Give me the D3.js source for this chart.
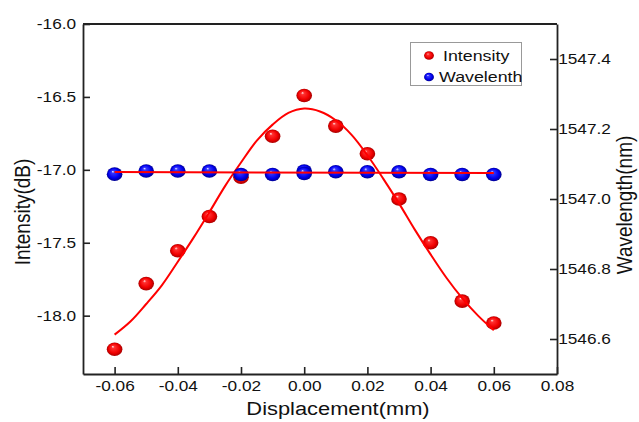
<!DOCTYPE html>
<html>
  <head>
    <meta charset="utf-8">
    <script src="https://d3js.org/d3.v7.min.js"></script>
    <style>
      body { margin: 0; background: #fff; }
      text { font-family: "Liberation Sans", Arial, sans-serif; fill: #111; }
    </style>
  </head>
  <body>
  <script>

    // measured points
    var xVals = [-0.06, -0.05, -0.04, -0.03, -0.02, -0.01, 0.00, 0.01, 0.02, 0.03, 0.04, 0.05, 0.06];
    var intensity = [-18.23, -17.78, -17.555, -17.32, -17.05, -16.77, -16.49, -16.70, -16.89, -17.20, -17.50, -17.90, -18.05];
    var wlX = [-0.06, -0.05, -0.04, -0.03, -0.02, -0.01, 0.00, 0.00, 0.01, 0.02, 0.03, 0.04, 0.05, 0.06];
    var wavelength = [1547.071, 1547.080, 1547.080, 1547.080, 1547.070, 1547.070, 1547.080, 1547.073, 1547.078, 1547.078, 1547.078, 1547.070, 1547.070, 1547.070];

    // fitted curves
    var fitX = [-0.06, -0.055, -0.05, -0.045, -0.04, -0.035, -0.03, -0.025, -0.02, -0.015, -0.01, -0.005, 0,
                0.005, 0.01, 0.015, 0.02, 0.025, 0.03, 0.035, 0.04, 0.045, 0.05, 0.055, 0.06];
    var fitIntensity = [-18.13, -18.04, -17.92, -17.79, -17.63, -17.465, -17.29, -17.11, -16.95, -16.80, -16.69, -16.61, -16.58,
                        -16.60, -16.66, -16.76, -16.90, -17.06, -17.23, -17.41, -17.58, -17.74, -17.88, -18.0, -18.1];
    var wlFitX = [-0.06, 0.06];
    var wlFit = [1547.077, 1547.074];

    var xTicks = [-0.06, -0.04, -0.02, 0.00, 0.02, 0.04, 0.06, 0.08];
    var leftTicks = [-18.0, -17.5, -17.0, -16.5, -16.0];
    var rightTicks = [1546.6, 1546.8, 1547.0, 1547.2, 1547.4];

    var width = 639, height = 422;
    var plotL = 83, plotR = 557, plotT = 24, plotB = 374;
    var sx = 1.15; // the picture is a bit wider than tall

    var x = d3.scaleLinear().domain([-0.07, 0.08]).range([plotL, plotR]);
    var yL = d3.scaleLinear().domain([-18.4, -16.0]).range([plotB, plotT]);
    var yR = d3.scaleLinear().domain([1546.5, 1547.5]).range([plotB, plotT]);

    var svg = d3.select('body').append('svg')
      .attr('width', width)
      .attr('height', height);

    var defs = svg.append('defs');
    function ball(id, stops) {
      var g = defs.append('radialGradient').attr('id', id)
        .attr('cx', '50%').attr('cy', '50%').attr('r', '50%')
        .attr('fx', '38%').attr('fy', '30%');
      stops.forEach(function(s) {
        g.append('stop').attr('offset', s[0]).attr('stop-color', s[1]);
      });
    }
    ball('redBall', [['0%', '#fff0f0'], ['20%', '#ff3030'], ['70%', '#f00000'], ['100%', '#a80000']]);
    ball('blueBall', [['0%', '#f0f0ff'], ['20%', '#3535ff'], ['70%', '#0000ee'], ['100%', '#000090']]);

    function stretchText(sel) {
      sel.attr('transform', 'scale(' + sx + ',1)');
    }

    // axes
    var xAxis = svg.append('g')
      .attr('transform', 'translate(0,' + plotB + ')')
      .call(d3.axisBottom(x).tickValues(xTicks).tickSizeInner(-7).tickSizeOuter(0).tickPadding(6)
        .tickFormat(function(d) { return d.toFixed(2); }));
    var lAxis = svg.append('g')
      .attr('transform', 'translate(' + plotL + ',0)')
      .call(d3.axisLeft(yL).tickValues(leftTicks).tickSizeInner(-7).tickSizeOuter(0).tickPadding(6)
        .tickFormat(function(d) { return d.toFixed(1); }));
    var rAxis = svg.append('g')
      .attr('transform', 'translate(' + plotR + ',0)')
      .call(d3.axisRight(yR).tickValues(rightTicks).tickSizeInner(-7).tickSizeOuter(0).tickPadding(1)
        .tickFormat(function(d) { return d.toFixed(1); }));

    [xAxis, lAxis, rAxis].forEach(function(a) {
      a.selectAll('text').style('font-size', '15px').style('font-family', '"Liberation Sans", Arial, sans-serif')
        .attr('fill', '#111').call(stretchText);
      a.selectAll('line').attr('stroke', '#222').attr('stroke-width', 1.6);
      a.select('.domain').attr('stroke', '#222').attr('stroke-width', 1.8);
    });

    svg.append('line')
      .attr('x1', plotL).attr('x2', plotR).attr('y1', plotT).attr('y2', plotT)
      .attr('stroke', '#222').attr('stroke-width', 1.8);

    // axis titles
    svg.append('text')
      .attr('transform', 'translate(338,415) scale(' + sx + ',1)')
      .attr('text-anchor', 'middle').style('font-size', '19px')
      .text('Displacement(mm)');
    svg.append('text')
      .attr('transform', 'translate(30,212) rotate(-90) scale(1,' + sx + ')')
      .attr('text-anchor', 'middle').style('font-size', '19px')
      .text('Intensity(dB)');
    svg.append('text')
      .attr('transform', 'translate(632,205) rotate(-90) scale(1,' + sx + ')')
      .attr('text-anchor', 'middle').style('font-size', '19px')
      .text('Wavelength(nm)');

    var r = 6.8;

    // intensity
    svg.append('g').selectAll('ellipse')
      .data(xVals).enter().append('ellipse')
      .attr('cx', function(d) { return x(d); })
      .attr('cy', function(d, i) { return yL(intensity[i]); })
      .attr('rx', r * sx).attr('ry', r)
      .attr('fill', 'url(#redBall)');

    var lineL = d3.line()
      .x(function(d) { return x(d); })
      .y(function(d, i) { return yL(fitIntensity[i]); })
      .curve(d3.curveCatmullRom);
    svg.append('path').datum(fitX)
      .attr('d', lineL)
      .attr('fill', 'none').attr('stroke', '#ff0000').attr('stroke-width', 2);

    // wavelength
    svg.append('g').selectAll('ellipse')
      .data(wlX).enter().append('ellipse')
      .attr('cx', function(d) { return x(d); })
      .attr('cy', function(d, i) { return yR(wavelength[i]); })
      .attr('rx', r * sx).attr('ry', r)
      .attr('fill', 'url(#blueBall)');

    var lineR = d3.line()
      .x(function(d) { return x(d); })
      .y(function(d, i) { return yR(wlFit[i]); });
    svg.append('path').datum(wlFitX)
      .attr('d', lineR)
      .attr('fill', 'none').attr('stroke', '#ff0000').attr('stroke-width', 2);

    // legend
    var legend = svg.append('g');
    legend.append('rect')
      .attr('x', 410.5).attr('y', 42.5).attr('width', 111).attr('height', 43)
      .attr('fill', '#fff').attr('stroke', '#999').attr('stroke-width', 1);
    var names = ['Intensity', 'Wavelenth'];
    var fills = ['url(#redBall)', 'url(#blueBall)'];
    names.forEach(function(n, i) {
      legend.append('ellipse')
        .attr('cx', 429).attr('cy', 55.5 + i * 21.5)
        .attr('rx', 4.3 * sx).attr('ry', 4.3)
        .attr('fill', fills[i]);
      legend.append('text')
        .attr('transform', 'translate(' + (i === 0 ? 443 : 439) + ',' + (61 + i * 21) + ') scale(' + sx + ',1)')
        .style('font-size', '15.5px')
        .text(n);
    });

  </script>
  </body>
</html>
